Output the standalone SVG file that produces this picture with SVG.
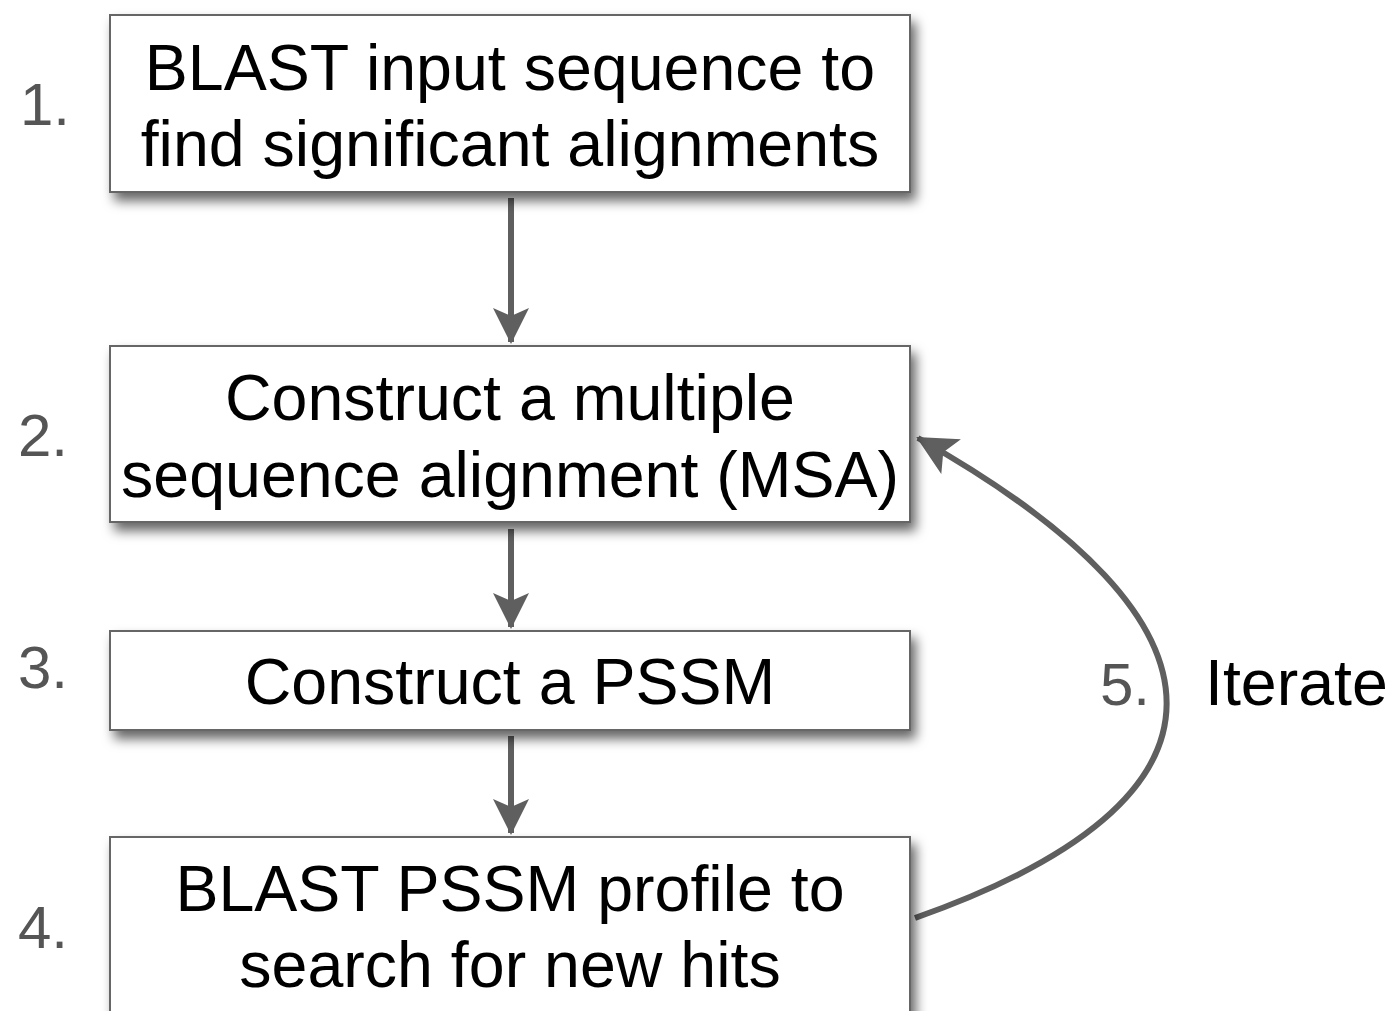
<svg xmlns="http://www.w3.org/2000/svg" width="1392" height="1011" viewBox="0 0 1392 1011">
<defs>
<filter id="sh" x="-10%" y="-20%" width="125%" height="150%">
<feDropShadow dx="5" dy="8" stdDeviation="6" flood-color="#000" flood-opacity="0.6"/>
</filter>
<marker id="ah2" viewBox="0 0 36 36" refX="34" refY="18" markerWidth="36" markerHeight="36" markerUnits="userSpaceOnUse" orient="auto">
<path d="M0,0 L36,18 L0,36 L8,18 Z" fill="#5f5f5f"/>
</marker>
<marker id="ah3" viewBox="0 0 40 40" refX="38" refY="20" markerWidth="40" markerHeight="40" markerUnits="userSpaceOnUse" orient="auto">
<path d="M0,0 L40,20 L0,40 L9,20 Z" fill="#5f5f5f"/>
</marker>
</defs>
<style>
.box{fill:#fff;stroke:#666;stroke-width:2;filter:url(#sh)}
.t{font-family:"Liberation Sans",Arial,sans-serif;font-size:64.5px;fill:#000;text-anchor:middle}
.n{font-family:"Liberation Sans",Arial,sans-serif;font-size:60px;fill:#555}
.c{fill:none;stroke:#5f5f5f;stroke-width:6}
</style>
<rect width="1392" height="1011" fill="#fff"/>
<g id="connectors">
<line class="c" x1="511" y1="198" x2="511" y2="342" marker-end="url(#ah2)"/>
<line class="c" x1="511" y1="529" x2="511" y2="627" marker-end="url(#ah2)"/>
<line class="c" x1="511" y1="736" x2="511" y2="833" marker-end="url(#ah2)"/>
<path class="c" d="M915,918 C1250,800 1250,625 918,438" marker-end="url(#ah3)"/>
</g>
<g id="node1">
<rect class="box" x="110" y="15" width="800" height="177"/>
<text class="t" x="510" y="90">BLAST input sequence to</text>
<text class="t" x="510" y="166">find significant alignments</text>
<text class="n" x="20" y="125">1.</text>
</g>
<g id="node2">
<rect class="box" x="110" y="346" width="800" height="176"/>
<text class="t" x="510" y="420">Construct a multiple</text>
<text class="t" x="510" y="497">sequence alignment (MSA)</text>
<text class="n" x="18" y="456">2.</text>
</g>
<g id="node3">
<rect class="box" x="110" y="631" width="800" height="99"/>
<text class="t" x="510" y="704">Construct a PSSM</text>
<text class="n" x="18" y="688">3.</text>
</g>
<g id="node4">
<rect class="box" x="110" y="837" width="800" height="200"/>
<text class="t" x="510" y="911">BLAST PSSM profile to</text>
<text class="t" x="510" y="987">search for new hits</text>
<text class="n" x="18" y="948">4.</text>
</g>
<g id="label5">
<text class="n" x="1100" y="705">5.</text>
<text class="t" x="1205" y="705" style="text-anchor:start">Iterate</text>
</g>
</svg>
